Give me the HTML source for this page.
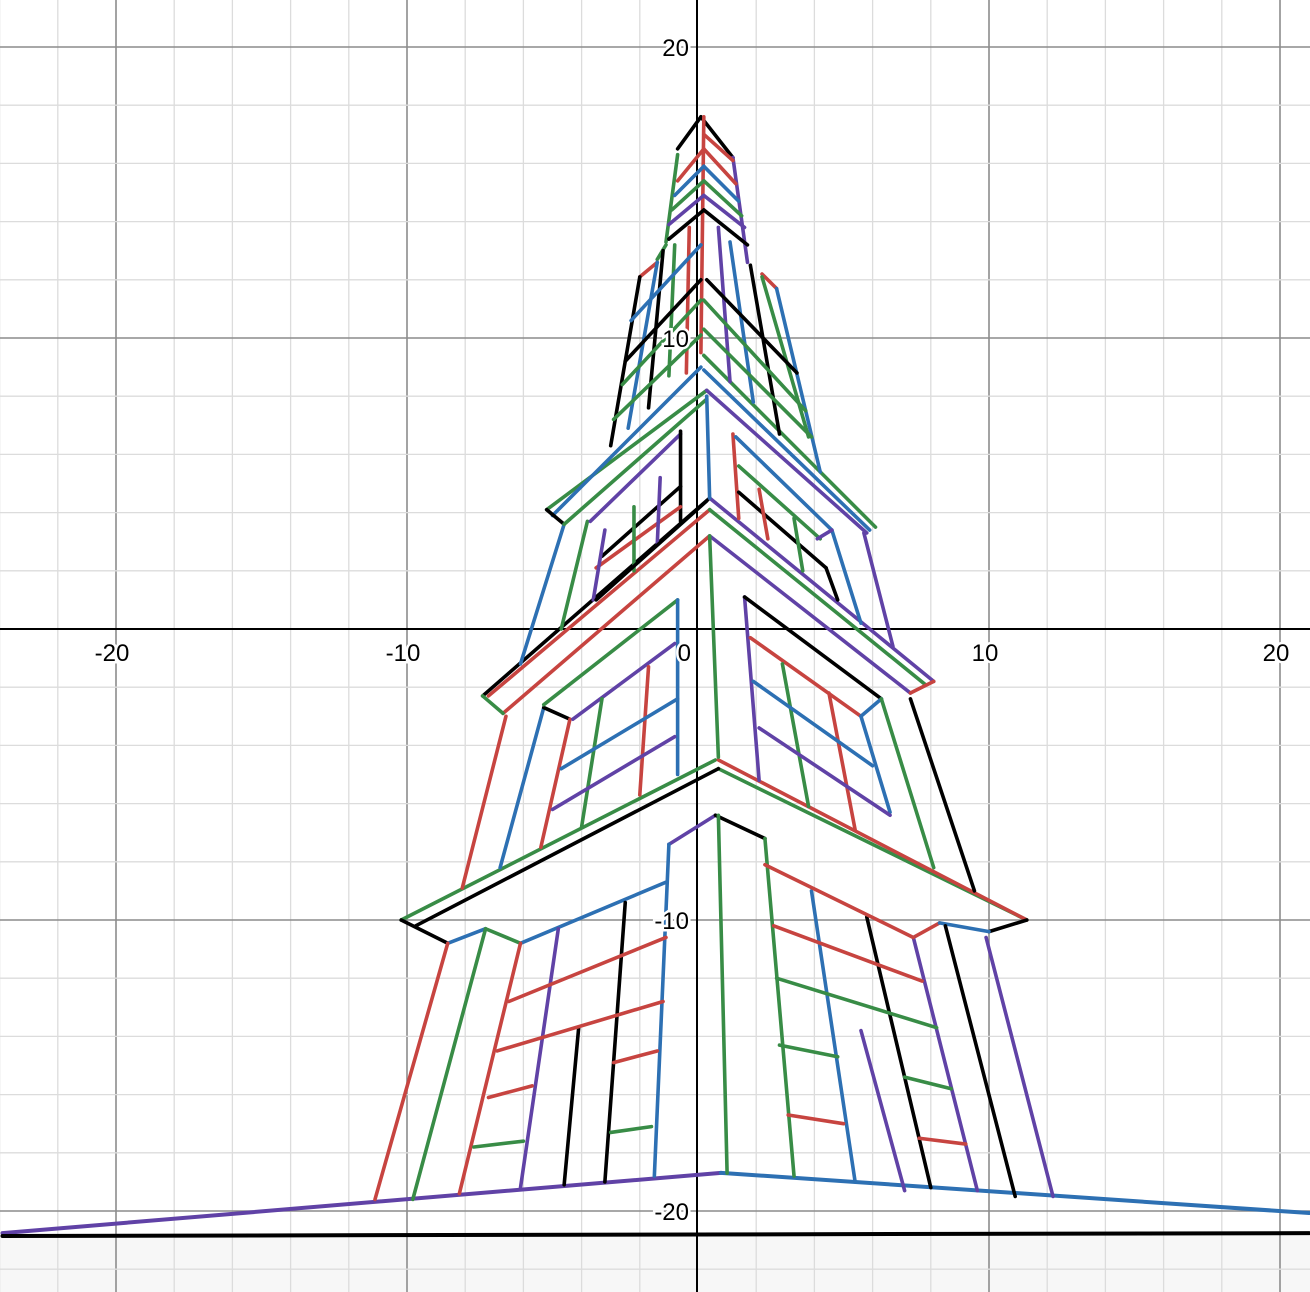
<!DOCTYPE html>
<html><head><meta charset="utf-8"><style>
html,body{margin:0;padding:0;background:#fff}
svg{display:block}
text{font-family:"Liberation Sans",sans-serif;font-size:24px;paint-order:stroke;stroke:#fff;stroke-width:5px;fill:#000}
</style></head><body>
<svg id="chart" width="1310" height="1292" viewBox="0 0 1310 1292" xmlns="http://www.w3.org/2000/svg">
<g id="bg"></g>
<g id="grid"></g>
<g id="axes"></g>
<g id="drawing"></g>
<g id="labels"></g>
</svg>
<script>
const xTicks=[-20,-10,10,20];
const yTicks=[20,10,-10,-20];
const xTickLabels=["-20","-10","10","20"];
const yTickLabels=["20","10","-10","-20"];
const colors={r:"#c74440",b:"#2d70b3",g:"#388c46",p:"#6042a6",k:"#000000"};
const groundSegs=[
[-23.9,-20.76,0.79,-18.69,"p"],[0.79,-18.69,21,-20.07,"b"],[-23.9,-20.86,21,-20.76,"k"]];
const lowerSegs=[
[-10.2,-10.0,0.6,-4.5,"g"],[0.7,-4.8,11.3,-10.0,"g"],[0.7,-4.5,11.3,-10.0,"r"],[-9.7,-10.2,0.7,-4.8,"k"],
[-10.2,-10.0,-8.6,-10.8,"k"],[10.0,-10.4,11.3,-10.0,"k"],[-8.6,-10.8,-7.3,-10.3,"b"],[-7.3,-10.3,-6.1,-10.8,"g"],
[-6.1,-10.8,-1.1,-8.7,"b"],[7.4,-10.6,8.3,-10.1,"r"],[8.3,-10.1,10.0,-10.4,"b"],[-1.0,-7.4,0.6,-6.4,"p"],[0.6,-6.4,2.3,-7.2,"k"],
[-8.6,-10.8,-11.1,-19.6,"r"],[-7.3,-10.3,-9.8,-19.6,"g"],[-6.1,-10.8,-8.2,-19.4,"r"],[-4.8,-10.3,-6.1,-19.2,"p"],
[-2.5,-9.4,-3.2,-19.0,"k"],[-4.1,-13.7,-4.6,-19.1,"k"],[-1.0,-7.4,-1.5,-18.8,"b"],[0.7,-6.4,1.0,-18.7,"g"],
[2.3,-7.2,3.3,-18.8,"g"],[3.9,-9.0,5.4,-19.0,"b"],[5.8,-9.9,8.0,-19.2,"k"],[5.6,-13.8,7.1,-19.3,"p"],
[7.4,-10.6,9.6,-19.3,"p"],[8.5,-10.2,10.9,-19.5,"k"],[9.9,-10.6,12.2,-19.5,"p"],
[-6.5,-12.8,-1.1,-10.6,"r"],[-6.9,-14.5,-1.2,-12.8,"r"],[-7.2,-16.1,-5.7,-15.7,"r"],[-7.7,-17.8,-6.0,-17.6,"g"],
[-2.9,-14.9,-1.4,-14.5,"r"],[-3.0,-17.3,-1.6,-17.1,"g"],[2.3,-8.1,7.4,-10.6,"r"],[2.6,-10.2,7.7,-12.1,"r"],
[2.7,-12.0,8.2,-13.7,"g"],[2.8,-14.3,4.8,-14.7,"g"],[7.1,-15.4,8.7,-15.8,"g"],[3.1,-16.7,5.0,-17.0,"r"],[7.6,-17.5,9.2,-17.7,"r"]];
const middleSegs=[
[-7.4,-2.3,0.4,4.5,"k"],[-7.2,-2.3,0.4,4.1,"r"],[-6.7,-2.9,0.4,3.2,"r"],[-7.4,-2.3,-6.7,-2.9,"g"],
[0.4,4.5,8.1,-1.8,"p"],[0.4,4.1,7.8,-1.9,"g"],[0.4,3.2,7.3,-2.2,"p"],[7.3,-2.2,8.1,-1.8,"r"],
[-6.6,-3.0,-8.1,-8.9,"r"],[-5.3,-2.7,-6.8,-8.2,"b"],[-5.3,-2.7,-4.4,-3.1,"k"],[-4.4,-3.1,-5.4,-7.5,"r"],
[-5.3,-2.6,-0.7,1.0,"g"],[-0.7,1.0,-0.7,-5.0,"b"],[-4.3,-3.1,-0.8,-0.5,"p"],[-1.7,-1.3,-2.0,-5.7,"r"],
[-3.3,-2.4,-4.0,-6.8,"g"],[-4.7,-4.8,-0.7,-2.4,"b"],[-5.0,-6.2,-0.8,-3.7,"p"],[0.4,3.2,0.7,-4.4,"g"],
[1.6,1.1,2.1,-5.2,"p"],[1.6,1.1,6.3,-2.4,"k"],[1.8,-0.3,5.6,-3.0,"r"],[5.6,-3.0,6.3,-2.4,"b"],
[5.6,-3.0,6.6,-6.3,"b"],[6.3,-2.4,8.1,-8.2,"g"],[7.3,-2.4,9.5,-9.0,"k"],[2.9,-1.2,3.8,-6.1,"g"],
[4.5,-2.2,5.4,-6.9,"r"],[1.9,-1.8,6.0,-4.7,"b"],[2.1,-3.4,6.6,-6.4,"p"]];
const upperSegs=[
[-5.2,4.1,0.3,8.2,"g"],[-5.0,3.9,0.1,9.0,"b"],[-5.2,4.1,-4.6,3.6,"k"],[-4.6,3.6,-6.1,-1.2,"b"],
[-3.8,3.7,-4.7,0.0,"g"],[-4.6,3.6,0.3,7.9,"g"],[-3.7,3.7,-0.6,6.7,"p"],[-0.6,6.8,-0.6,3.7,"k"],
[-3.3,2.5,-0.6,4.9,"k"],[-3.5,2.1,-0.6,4.2,"r"],[-2.2,2.0,-2.2,4.2,"g"],[-1.4,2.9,-1.3,5.2,"p"],
[-3.2,3.4,-3.6,1.0,"p"],[-3.5,1.0,0.3,4.4,"k"],[0.2,8.9,5.9,3.4,"b"],[0.2,9.4,6.1,3.5,"g"],
[0.3,8.2,5.8,3.3,"p"],[5.7,3.3,6.7,-0.6,"p"],[4.6,3.4,5.6,0.2,"b"],[0.3,8.0,0.4,4.5,"b"],
[1.2,6.7,1.4,3.8,"r"],[1.3,6.6,4.6,3.4,"b"],[1.4,5.6,4.2,3.1,"g"],[1.4,4.7,4.4,2.1,"k"],[4.4,2.1,4.8,1.0,"k"],
[2.1,4.8,2.4,3.1,"r"],[3.3,3.8,3.6,2.0,"g"],[4.1,3.1,4.6,3.4,"p"]];
const spireSegs=[
[0.1,17.6,-0.7,16.5,"k"],[0.1,17.6,1.2,16.2,"k"],[-0.7,16.3,-1.1,13.3,"g"],[-1.1,13.2,-1.4,12.7,"g"],
[-2.0,12.1,-1.4,12.6,"r"],[-2.0,12.1,-3.0,6.3,"k"],[-1.4,12.6,-2.4,6.9,"b"],[-1.2,13.0,-1.7,7.6,"k"],
[-0.8,13.2,-1.0,8.7,"g"],[-0.3,13.8,-0.4,8.8,"r"],[0.2,17.6,0.1,9.5,"r"],[1.2,16.2,1.7,12.6,"p"],
[1.8,12.5,2.8,6.7,"k"],[2.2,12.2,2.7,11.7,"r"],[2.7,11.7,4.2,5.4,"b"],[2.2,12.1,3.8,6.6,"g"],
[0.7,13.8,1.1,8.5,"p"],[1.1,13.3,1.9,7.8,"b"],
[-2.5,9.2,0.1,12.0,"k"],[-2.3,10.6,0.1,13.2,"b"],[-2.9,7.2,0.1,10.1,"g"],[-2.6,8.4,0.1,11.3,"g"],
[-0.7,15.4,0.2,16.5,"r"],[-0.8,14.9,0.2,15.9,"b"],[-0.9,14.4,0.2,15.4,"g"],[-1.0,13.9,0.2,14.9,"p"],[-1.0,13.4,0.2,14.4,"k"],
[0.2,17.0,1.2,16.1,"r"],[0.2,16.5,1.3,15.3,"r"],[0.2,15.9,1.4,14.7,"b"],[0.2,15.4,1.5,14.2,"g"],
[0.2,14.9,1.6,13.8,"p"],[0.2,14.4,1.7,13.2,"k"],[0.3,12.0,3.4,8.8,"k"],[0.2,11.3,3.7,7.5,"g"],[0.2,10.3,3.9,6.6,"g"]];

const X0=698,Y0=629,KX=29.1,KY=29.1;
function sx(v){return X0+v*KX;}
function sy(v){return Y0-v*KY;}
const NS="http://www.w3.org/2000/svg";
function line(g,x1,y1,x2,y2,stroke,w){
  const l=document.createElementNS(NS,"line");
  l.setAttribute("x1",x1);l.setAttribute("y1",y1);l.setAttribute("x2",x2);l.setAttribute("y2",y2);
  l.setAttribute("stroke",stroke);l.setAttribute("stroke-width",w);l.setAttribute("stroke-linecap","round");
  g.appendChild(l);return l;
}
const bg=document.getElementById("bg");
const r=document.createElementNS(NS,"rect");
r.setAttribute("x",0);r.setAttribute("y",sy(-20.8));r.setAttribute("width",1310);r.setAttribute("height",1292-sy(-20.8));r.setAttribute("fill","#f7f7f7");


bg.appendChild(r);
const grid=document.getElementById("grid");
for(let v=-24;v<=22;v+=2){
  const major=v%10===0;
  if(v===0)continue;
  const l=line(grid,sx(v),0,sx(v),1292,major?"#8c8c8c":"#dcdcdc",major?1.6:1.3);
  
  
}
for(let v=-24;v<=22;v+=2){
  const major=v%10===0;
  if(v===0)continue;
  const l=line(grid,0,sy(v),1310,sy(v),major?"#8c8c8c":"#dcdcdc",major?1.6:1.3);
  
  
}
const axes=document.getElementById("axes");
const xa=line(axes,0,sy(0),1310,sy(0),"#000",2);


const ya=line(axes,sx(0)-1,0,sx(0)-1,1292,"#000",2);



const drawing=document.getElementById("drawing");
const groups=[["ground",groundSegs],["lower-block",lowerSegs],["middle-block",middleSegs],["upper-block",upperSegs],["spire",spireSegs]];
groups.forEach(([name,segs])=>{
  segs.forEach(s=>{
    const l=line(drawing,sx(s[0]),sy(s[1]),sx(s[2]),sy(s[3]),colors[s[4]],name==="ground"?4:3.6);
    
    
  });
});

const labels=document.getElementById("labels");
function text(x,y,s,anchor){
  const t=document.createElementNS(NS,"text");
  t.setAttribute("x",x);t.setAttribute("y",y);t.setAttribute("text-anchor",anchor);t.textContent=s;
  labels.appendChild(t);return t;
}
xTicks.forEach((v,i)=>{
  const t=text(sx(v)-4,sy(0)+32,xTickLabels[i],"middle");
  
  
});
yTicks.forEach((v,i)=>{
  const t=text(sx(0)-9,sy(v)+9,yTickLabels[i],"end");
  
  
});
const z=text(sx(0)-7,sy(0)+32,"0","end");


</script>
</body></html>
